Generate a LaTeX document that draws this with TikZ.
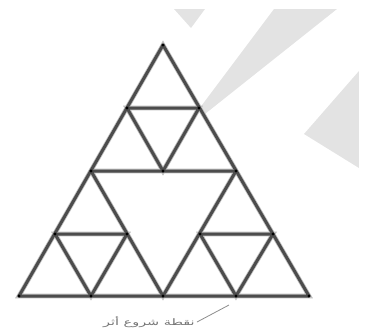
\documentclass[tikz,border=0pt]{standalone}
\usepackage{fontspec}
\newfontfamily\arabicfont[Script=Arabic]{DejaVu Sans}
\TeXXeTstate=1
\begin{document}
\begin{tikzpicture}[x=1pt,y=-1pt,
  edge/.style={draw=black!70, line width=3pt, line cap=round, line join=round},
  halo/.style={draw=black!25, line width=4.6pt, line cap=round},
  vdot/.style={fill=black, circle, inner sep=0pt, minimum size=3.4pt},
  shade/.style={fill=black!11, draw=none},
  lbl/.style={text=black!55, font=\arabicfont\fontsize{9}{10}\selectfont, inner sep=0pt, xscale=1.6},
  pointer/.style={draw=black!45, line width=0.8pt}]
\useasboundingbox (0,0) rectangle (368,333);
% light hatched shapes
\fill[shade] (174,9) -- (205,9) -- (191,28) -- cycle;
\fill[shade] (274,9) -- (337,9) -- (181,133) -- cycle;
\fill[shade] (359,71) -- (304,134) -- (359,168) -- cycle;
% vertices
\coordinate (A) at (163,45);
\coordinate (B) at (19,296);
\coordinate (C) at (309,296);
\coordinate (AB) at (91,171);
\coordinate (AC) at (236,171);
\coordinate (BC) at (163,296);
\coordinate (t1) at (127,108);
\coordinate (t2) at (199,108);
\coordinate (t3) at (163,171);
\coordinate (l1) at (55,234);
\coordinate (l2) at (127,234);
\coordinate (l3) at (91,296);
\coordinate (r1) at (200,234);
\coordinate (r2) at (273,234);
\coordinate (r3) at (236,296);
\fill[white] (A) -- (B) -- (C) -- cycle;
% halo
\draw[halo] (A) -- (B) -- (C) -- cycle;
\draw[halo] (AB) -- (AC) (AB) -- (BC) -- (AC);
\draw[halo] (t1) -- (t2) -- (t3) -- cycle;
\draw[halo] (l1) -- (l2) -- (l3) -- cycle;
\draw[halo] (r1) -- (r2) -- (r3) -- cycle;
% edges
\draw[edge] (A) -- (B) -- (C) -- cycle;
\draw[edge] (AB) -- (AC) (AB) -- (BC) -- (AC);
\draw[edge] (t1) -- (t2) -- (t3) -- cycle;
\draw[edge] (l1) -- (l2) -- (l3) -- cycle;
\draw[edge] (r1) -- (r2) -- (r3) -- cycle;
\foreach \p in {A,B,C,AB,AC,BC,t1,t2,t3,l1,l2,l3,r1,r2,r3}
  \node[vdot] at (\p) {};
% label
\node[lbl, anchor=east] (lab) at (195,322) {\beginR نقطة شروع أثر\endR};
\coordinate (tip) at (229,305);
\draw[pointer] (lab.east) ++(2,0) -- (tip);
\end{tikzpicture}
\end{document}
